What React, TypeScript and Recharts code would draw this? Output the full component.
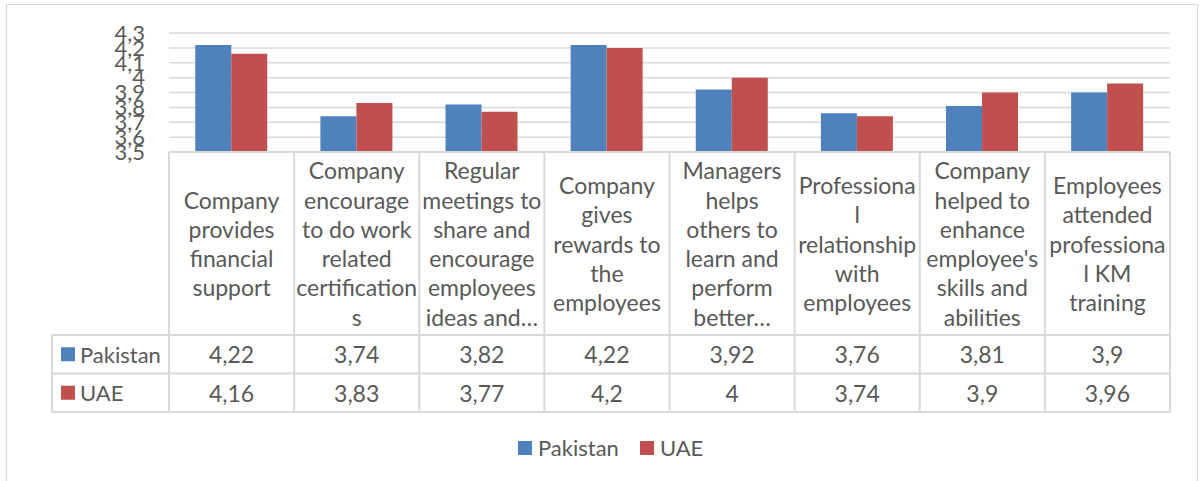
import { BarChart, Bar, XAxis, YAxis, CartesianGrid } from 'recharts';

// category labels, wrapped the way the data table shows them
const categories = [
  ['Company', 'provides', 'financial', 'support'],
  ['Company', 'encourage', 'to do work', 'related', 'certification', 's'],
  ['Regular', 'meetings to', 'share and', 'encourage', 'employees', 'ideas and…'],
  ['Company', 'gives', 'rewards to', 'the', 'employees'],
  ['Managers', 'helps', 'others to', 'learn and', 'perform', 'better…'],
  ['Professiona', 'l', 'relationship', 'with', 'employees'],
  ['Company', 'helped to', 'enhance', "employee's", 'skills and', 'abilities'],
  ['Employees', 'attended', 'professiona', 'l KM', 'training'],
];
const pakistan = [4.22, 3.74, 3.82, 4.22, 3.92, 3.76, 3.81, 3.9];
const uae = [4.16, 3.83, 3.77, 4.2, 4, 3.74, 3.9, 3.96];
const yTicks = [3.5, 3.6, 3.7, 3.8, 3.9, 4, 4.1, 4.2, 4.3];

const series = [
  { key: 'Pakistan', values: pakistan, color: '#4f81bd' },
  { key: 'UAE', values: uae, color: '#c0504d' },
];

const data = categories.map((lines, i) => ({
  name: String(i),
  Pakistan: pakistan[i],
  UAE: uae[i],
}));

const GRID = '#d9d9d9';
const TEXT = '#595959';
const FONT = 'Lato, "Open Sans", sans-serif';

const W = 1201;
const H = 481;
const margin = { top: 33, right: 31, left: 109, bottom: 69 };
const Y_W = 60;
const X_H = 260;
const PLOT_W = W - margin.left - Y_W - margin.right;

const HEAD_H = 183;
const ROW_H = 38.5;
const LINE_H = 29.3;
const KEY_W = 117;
const CELL_FS = 23;

const fmt = (v: number) => String(v).replace('.', ',');

function TableColumn(props: any) {
  const { x, y, index } = props;
  const w = PLOT_W / categories.length;
  const left = x - w / 2;
  const right = x + w / 2;
  const lines = categories[index];
  const mid = y + HEAD_H / 2;
  const bottom = y + HEAD_H + series.length * ROW_H;

  return (
    <g>
      <line x1={right} y1={y} x2={right} y2={bottom} stroke={GRID} strokeWidth={2} />
      {index === 0 && <line x1={left} y1={y} x2={left} y2={bottom} stroke={GRID} strokeWidth={2} />}
      {lines.map((t, k) => (
        <text
          key={k}
          x={x}
          y={mid + (k - (lines.length - 1) / 2) * LINE_H}
          textAnchor="middle"
          dominantBaseline="central"
          fill={TEXT}
          fontSize={CELL_FS}
          fontFamily={FONT}
        >
          {t}
        </text>
      ))}
      {series.map((s, r) => {
        const top = y + HEAD_H + r * ROW_H;
        return (
          <g key={s.key}>
            <line x1={index === 0 ? left - KEY_W : left} y1={top} x2={right} y2={top} stroke={GRID} strokeWidth={2} />
            <text
              x={x}
              y={top + ROW_H / 2}
              textAnchor="middle"
              dominantBaseline="central"
              fill={TEXT}
              fontSize={CELL_FS}
              fontFamily={FONT}
            >
              {fmt(s.values[index])}
            </text>
            {index === 0 && (
              <g>
                <rect x={left - KEY_W + 9} y={top + ROW_H / 2 - 7} width={14} height={14} fill={s.color} />
                <text
                  x={left - KEY_W + 28}
                  y={top + ROW_H / 2}
                  dominantBaseline="central"
                  fill={TEXT}
                  fontSize={22}
                  fontFamily={FONT}
                >
                  {s.key}
                </text>
              </g>
            )}
          </g>
        );
      })}
      <line x1={index === 0 ? left - KEY_W : left} y1={bottom} x2={right} y2={bottom} stroke={GRID} strokeWidth={2} />
      {index === 0 && (
        <line x1={left - KEY_W} y1={y + HEAD_H} x2={left - KEY_W} y2={bottom} stroke={GRID} strokeWidth={2} />
      )}
    </g>
  );
}

export default function App() {
  return (
    <div
      style={{
        position: 'absolute',
        left: 0,
        top: 0,
        width: W,
        height: H,
        overflow: 'hidden',
        background: '#fff',
        fontFamily: FONT,
      }}
    >
      <div
        style={{
          position: 'absolute',
          left: 6,
          top: 4,
          width: 1190,
          height: 500,
          border: `1.5px solid ${GRID}`,
        }}
      />
      <BarChart
        width={W}
        height={H}
        data={data}
        margin={margin}
        barGap={0}
        barCategoryGap="21%"
        style={{ position: 'absolute', left: 0, top: 0 }}
      >
        <CartesianGrid vertical={false} stroke={GRID} strokeWidth={1.5} />
        <YAxis
          domain={[3.5, 4.3]}
          ticks={yTicks}
          interval={0}
          width={Y_W}
          axisLine={false}
          tickLine={false}
          tickSize={0}
          tickMargin={24}
          tickFormatter={fmt}
          tick={{ fill: TEXT, fontSize: 22, fontFamily: FONT }}
        />
        <XAxis
          dataKey="name"
          height={X_H}
          interval={0}
          axisLine={{ stroke: GRID, strokeWidth: 2 }}
          tickLine={false}
          tickSize={0}
          tickMargin={0}
          tick={(p: any) => <TableColumn {...p} />}
        />
        {series.map((s) => (
          <Bar key={s.key} dataKey={s.key} fill={s.color} isAnimationActive={false} />
        ))}
      </BarChart>
      <div
        style={{
          position: 'absolute',
          left: 518,
          top: 441,
          height: 14,
          display: 'flex',
          alignItems: 'center',
          color: TEXT,
          fontSize: 22,
        }}
      >
        {series.map((s, i) => (
          <div key={s.key} style={{ display: 'flex', alignItems: 'center', marginLeft: i === 0 ? 0 : 21 }}>
            <div style={{ width: 14, height: 14, background: s.color, marginRight: 6 }} />
            <span style={{ lineHeight: '14px' }}>{s.key}</span>
          </div>
        ))}
      </div>
    </div>
  );
}
